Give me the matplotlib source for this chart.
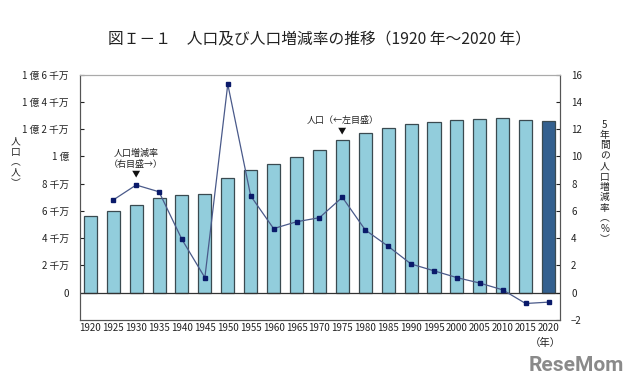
import numpy as np
import matplotlib
matplotlib.use("Agg")
import matplotlib.pyplot as plt

plt.rcParams['font.family'] = ['Noto Sans CJK JP', 'DejaVu Sans']

# -----------------------------
# Data
# -----------------------------
years = [1920, 1925, 1930, 1935, 1940, 1945, 1950, 1955, 1960, 1965, 1970,
         1975, 1980, 1985, 1990, 1995, 2000, 2005, 2010, 2015, 2020]
# population in units of 10,000 persons
population = [5596, 5974, 6445, 6925, 7193, 7215, 8411, 9008, 9430, 9921, 10467,
              11194, 11706, 12105, 12361, 12557, 12693, 12777, 12806, 12709, 12615]
# 5-year growth rate (%), no value for 1920
growth_years = years[1:]
growth_rate = [6.8, 7.9, 7.4, 3.9, 1.1, 15.3, 7.1, 4.7, 5.2, 5.5,
               7.0, 4.6, 3.4, 2.1, 1.6, 1.1, 0.7, 0.2, -0.8, -0.7]

left_ticks = [0, 2000, 4000, 6000, 8000, 10000, 12000, 14000, 16000]
left_labels = ['0', '2 千万', '4 千万', '6 千万', '8 千万', '1 億',
               '1 億 2 千万', '1 億 4 千万', '1 億 6 千万']
right_ticks = [-2, 0, 2, 4, 6, 8, 10, 12, 14, 16]

# -----------------------------
# Figure
# -----------------------------
fig = plt.figure(figsize=(6.4, 3.91), dpi=100)
ax = fig.add_axes([0.125, 0.182, 0.75, 0.627])
ax2 = ax.twinx()

x = np.arange(len(years))
colors = ['#92CDDC'] * (len(years) - 1) + ['#33608F']
ax.bar(x, population, width=0.57, color=colors, edgecolor='#3a4a50', linewidth=0.9, zorder=2)

gx = [years.index(y) for y in growth_years]
ax2.plot(gx, growth_rate, color='#4a5a8a', linewidth=0.9, marker='s', markersize=3,
         markerfacecolor='#0a1a6a', markeredgecolor='#0a1a6a', zorder=3)

ax.set_xlim(-0.45, 20.5)
ax.set_ylim(-2000, 16000)
ax2.set_ylim(-2, 16)

ax.set_yticks(left_ticks)
ax.set_yticklabels(left_labels)
ax2.set_yticks(right_ticks)
ax.set_xticks(x)
ax.set_xticklabels([str(y) for y in years])

ax.tick_params(axis='y', direction='in', length=3, labelsize=7, pad=8, colors='#222222')
ax2.tick_params(axis='y', direction='in', length=3, labelsize=7, pad=8, colors='#222222')
ax.tick_params(axis='x', length=0, labelsize=7, pad=2, colors='#222222')

ax.axhline(0, color='#333333', linewidth=0.9, zorder=2)

for a in (ax, ax2):
    a.spines['top'].set_color('#aaaaaa')
    a.spines['left'].set_color('#555555')
    a.spines['right'].set_color('#555555')
    a.spines['bottom'].set_color('#555555')

ax.set_zorder(ax2.get_zorder() - 1)
ax2.patch.set_visible(False)

# -----------------------------
# Text
# -----------------------------
fig.text(0.5, 0.897, '図Ｉ－１　人口及び人口増減率の推移（1920 年～2020 年）',
         ha='center', va='center', fontsize=11.3, color='#222222')

fig.text(0.024, 0.585, '人\n口\n︵\n人\n︶', ha='center', va='center', fontsize=7,
         linespacing=1.05, color='#222222')
fig.text(0.945, 0.535, '5\n年\n間\nの\n人\n口\n増\n減\n率\n︵\n%\n︶', ha='center', va='center',
         fontsize=7, linespacing=1.05, color='#222222')
fig.text(0.852, 0.122, '（年）', ha='center', va='center', fontsize=7.5, color='#222222')

ax2.text(2, 9.8, '人口増減率\n（右目盛→）', ha='center', va='center', fontsize=6.5,
         linespacing=1.25, color='#222222')
ax2.text(2, 8.7, '▼', ha='center', va='center', fontsize=6, color='#111111')
ax2.text(11, 12.6, '人口（←左目盛）', ha='center', va='center', fontsize=6.5, color='#222222')
ax2.text(11, 11.9, '▼', ha='center', va='center', fontsize=6, color='#111111')

fig.text(0.975, 0.066, 'ReseMom', ha='right', va='center', fontsize=15, fontweight='bold',
         color='#8a8a8a', family=['Roboto', 'DejaVu Sans'])

fig.savefig('out.png', dpi=100)
